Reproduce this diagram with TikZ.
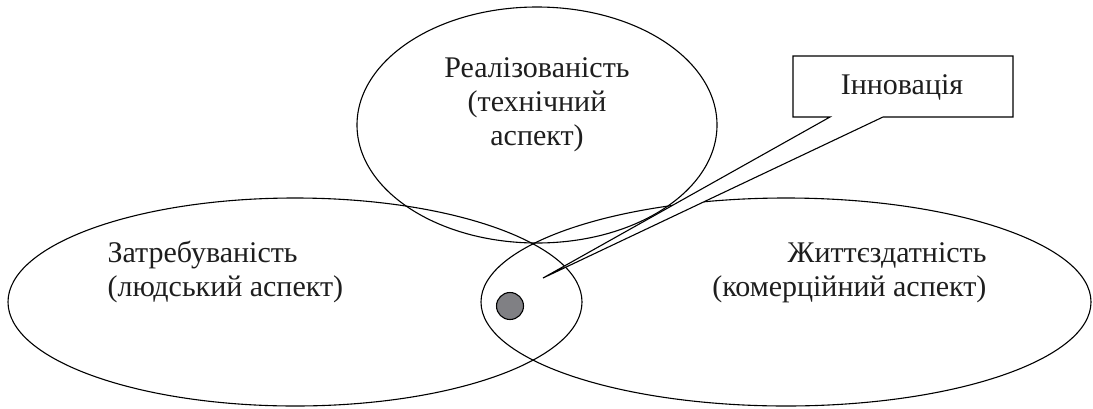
\documentclass[tikz,border=0pt]{standalone}
\usepackage{fontspec}
\setmainfont{Liberation Serif}
\usetikzlibrary{shapes.geometric}
\definecolor{dotgray}{RGB}{128,128,132}
\definecolor{txt}{RGB}{30,30,30}
\begin{document}
\begin{tikzpicture}[x=1pt,y=-1pt,line width=1.1pt,
  lbl/.style={font=\fontsize{30}{34}\selectfont, inner sep=0pt, text=txt},
  venn/.style={draw, ellipse, inner sep=0pt, outer sep=0pt}]
\useasboundingbox (0,0) rectangle (1093,408);
% three aspect ellipses
\node[venn, minimum width=574pt, minimum height=208pt] (need) at (295,302) {};
\node[venn, minimum width=610pt, minimum height=208pt] (viab) at (786,302) {};
\node[venn, minimum width=360pt, minimum height=236pt] (feas) at (537,125) {};
% callout
\coordinate (boxNW) at (793,56);
\coordinate (boxNE) at (1013,56);
\coordinate (boxSE) at (1013,117);
\coordinate (legR) at (883,117);
\coordinate (legL) at (830,117);
\coordinate (boxSW) at (793,117);
\coordinate (tip) at (543,278);
\draw[fill=white, line join=miter] (boxNW) -- (boxNE) -- (boxSE) -- (legR) -- (tip) -- (legL) -- (boxSW) -- cycle;
\node[lbl, anchor=base] (inn) at (902,94) {Інновація};
% innovation dot
\node[circle, draw, fill=dotgray, minimum size=27pt, inner sep=0pt] (dot) at (510,306) {};
% labels
\node[lbl, anchor=base] (feas1) at (537,77) {Реалізованість};
\node[lbl, anchor=base] (feas2) at (537,111) {(технічний};
\node[lbl, anchor=base] (feas3) at (537,145) {аспект)};
\node[lbl, anchor=base west] (need1) at (107,262) {Затребуваність};
\node[lbl, anchor=base west] (need2) at (107,296) {(людський аспект)};
\node[lbl, anchor=base east] (viab1) at (987,262) {Життєздатність};
\node[lbl, anchor=base east] (viab2) at (987,296) {(комерційний аспект)};
\end{tikzpicture}
\end{document}
